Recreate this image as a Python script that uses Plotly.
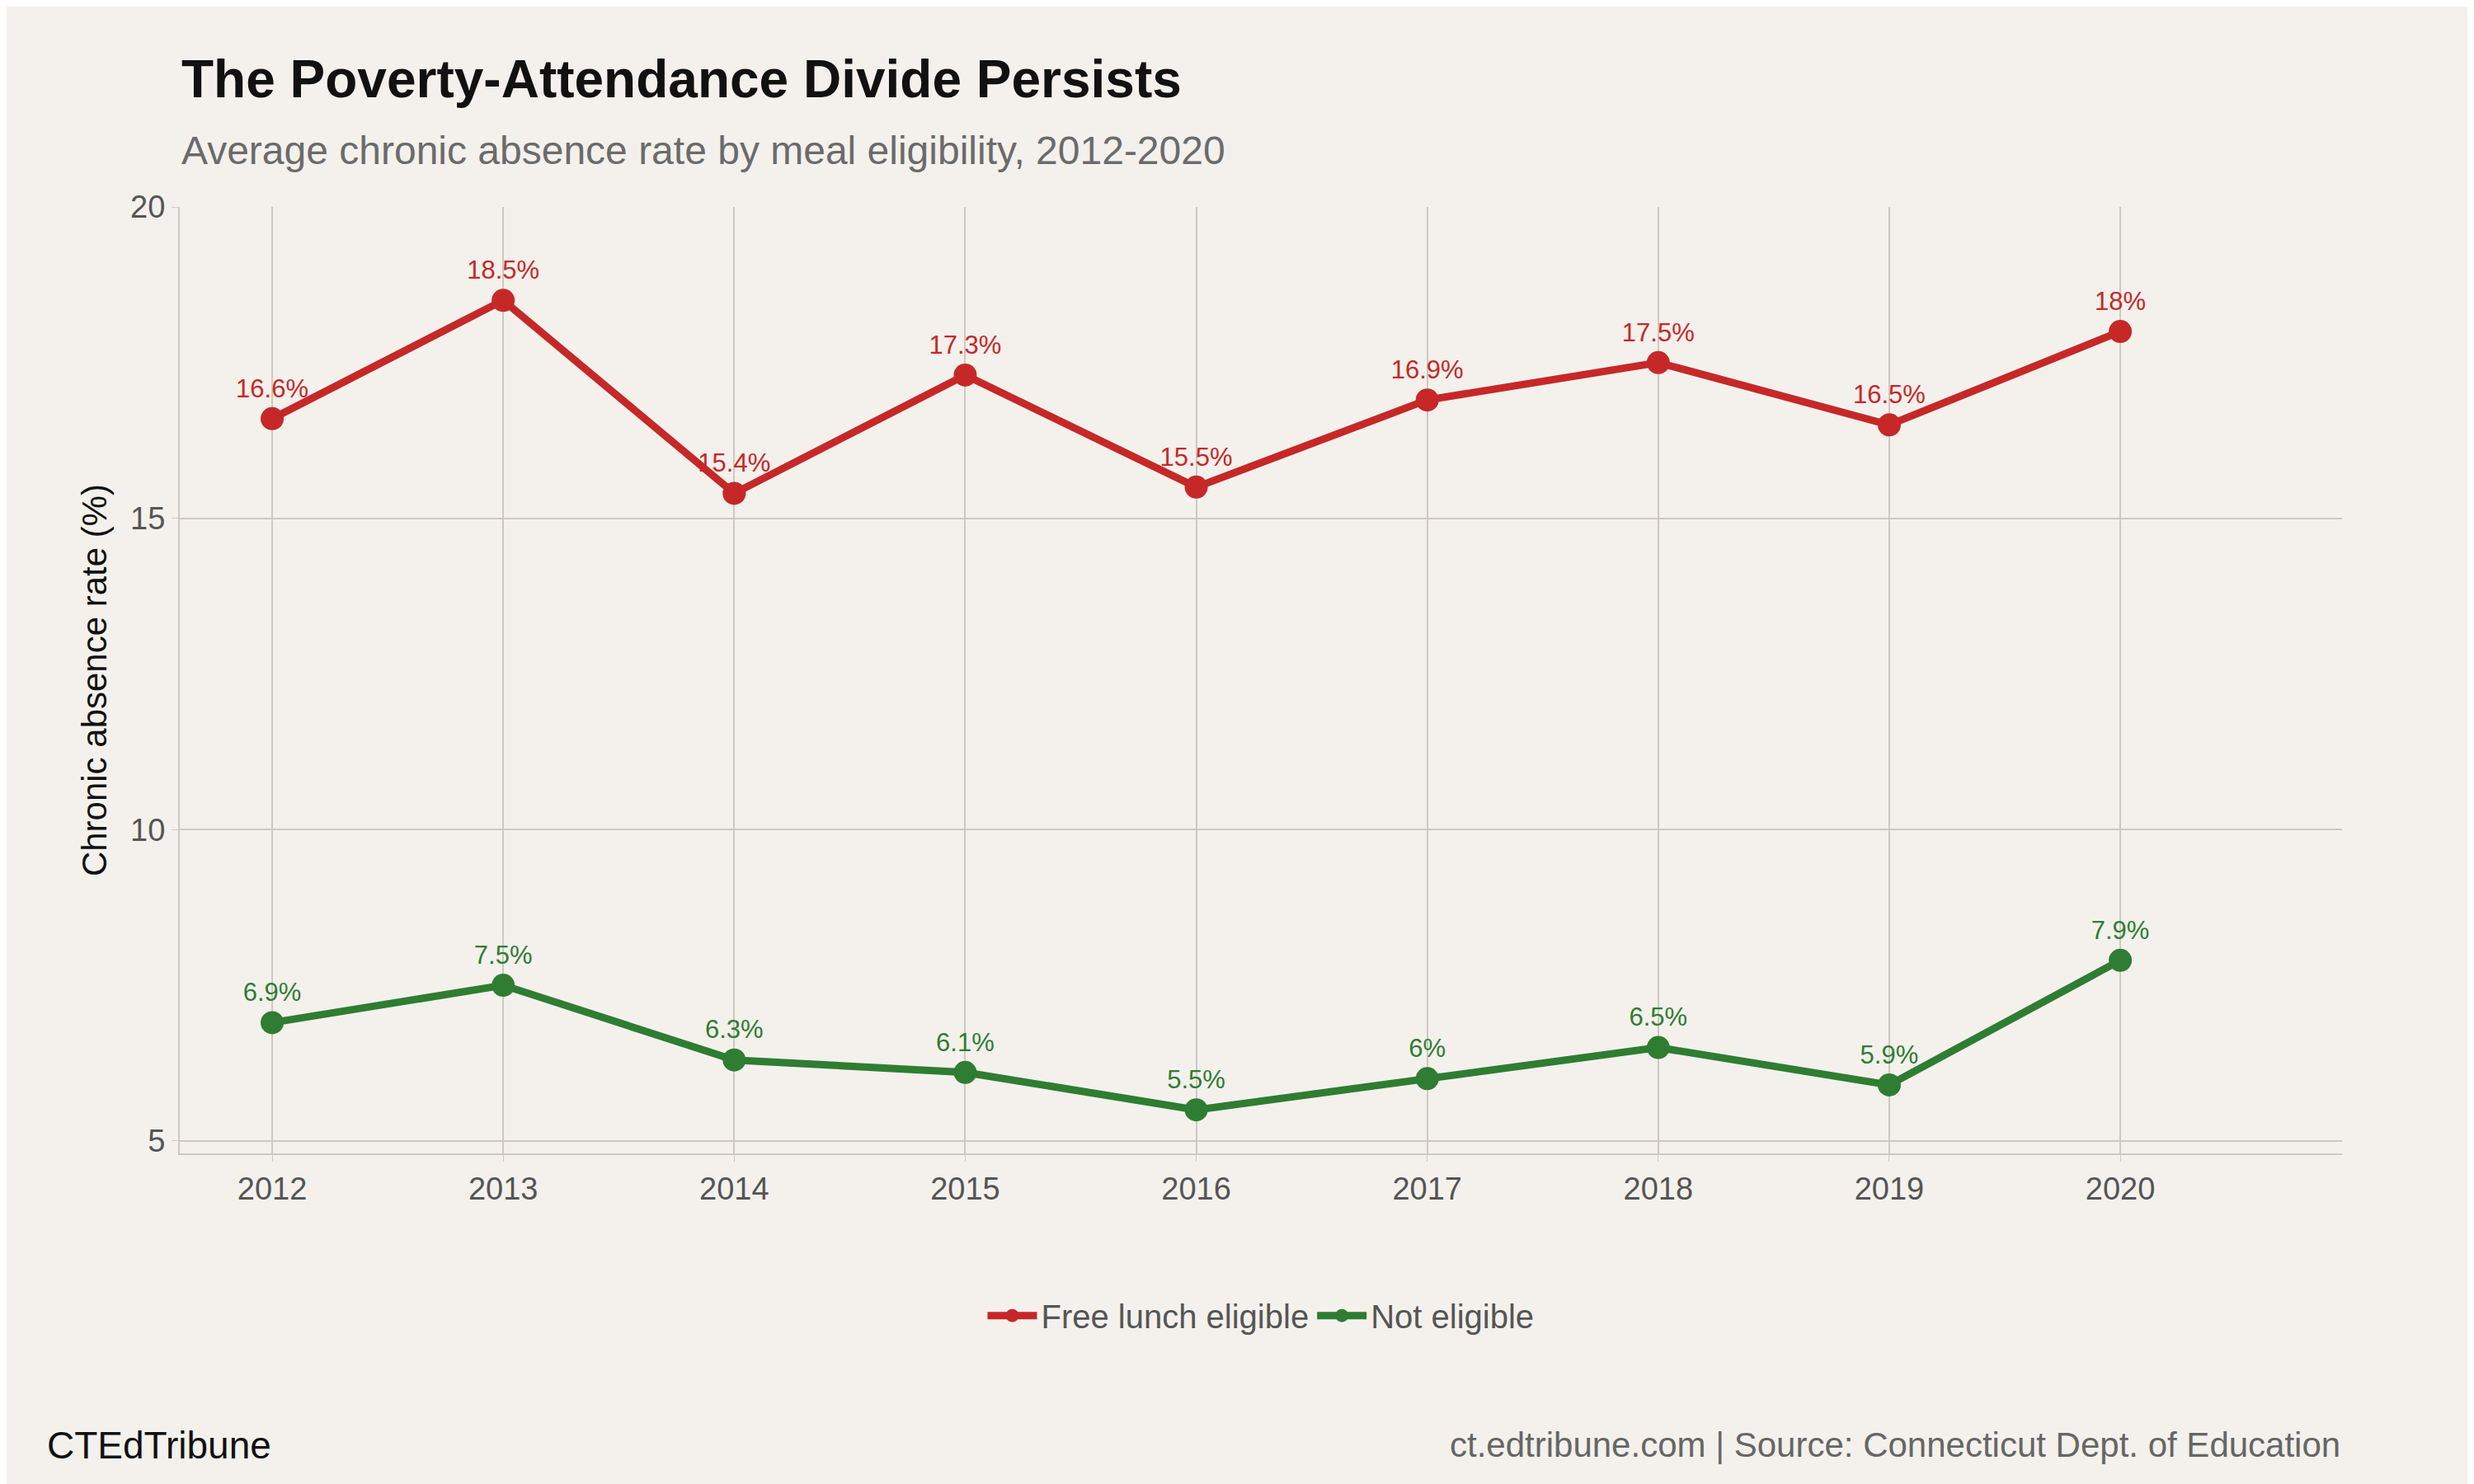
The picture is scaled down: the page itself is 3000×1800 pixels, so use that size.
import plotly.graph_objects as go

years = [2012, 2013, 2014, 2015, 2016, 2017, 2018, 2019, 2020]
free_lunch = [16.6, 18.5, 15.4, 17.3, 15.5, 16.9, 17.5, 16.5, 18.0]
not_eligible = [6.9, 7.5, 6.3, 6.1, 5.5, 6.0, 6.5, 5.9, 7.9]

RED = "#C62828"
GREEN = "#2E7D32"
BG = "#F4F1EC"
GRID = "#CDC9C2"
FONT = "Liberation Sans, Arial, sans-serif"


def label(v):
    return f"{v:g}%"


fig = go.Figure()
for name, vals, col in [("Free lunch eligible", free_lunch, RED),
                        ("Not eligible", not_eligible, GREEN)]:
    fig.add_trace(go.Scatter(
        x=years, y=vals, name=name, mode="lines+markers+text",
        line=dict(color=col, width=9),
        marker=dict(color=col, size=28),
        text=[label(v) for v in vals], textposition="top center",
        textfont=dict(color=col, size=31, family=FONT),
    ))

fig.update_layout(
    width=3000, height=1800,
    paper_bgcolor=BG, plot_bgcolor=BG,
    margin=dict(l=210, r=168, t=243, b=409),
    font=dict(family=FONT, color="#555555"),
    legend=dict(orientation="h", x=0.5, xanchor="center", y=-0.143, yanchor="top",
                font=dict(size=40, color="#555555"), itemwidth=60),
    showlegend=True,
)
fig.update_xaxes(range=[2011.6, 2020.96], tickvals=years, showgrid=True, gridcolor=GRID,
                 gridwidth=2, showline=True, linecolor=GRID, linewidth=2, ticks="outside",
                 tickcolor=GRID, ticklen=8, tickfont=dict(size=38, color="#555555"), zeroline=False)
fig.update_yaxes(range=[4.8, 20], tickvals=[5, 10, 15, 20], showgrid=True, gridcolor=GRID,
                 gridwidth=2, showline=True, linecolor=GRID, linewidth=2, ticks="outside",
                 tickcolor=GRID, ticklen=8, tickfont=dict(size=38, color="#555555"),
                 title=dict(text="Chronic absence rate (%)", font=dict(size=42, color="#111111")),
                 zeroline=False)

fig.add_annotation(text="<b>The Poverty-Attendance Divide Persists</b>", xref="paper", yref="paper",
                   x=0, y=1.135, xanchor="left", yanchor="middle", showarrow=False,
                   font=dict(size=64, color="#111111"))
fig.add_annotation(text="Average chronic absence rate by meal eligibility, 2012-2020",
                   xref="paper", yref="paper", x=0, y=1.06, xanchor="left", yanchor="middle",
                   showarrow=False, font=dict(size=48, color="#6b6b6b"))
fig.add_annotation(text="CTEdTribune", xref="paper", yref="paper", x=-0.062, y=-0.308,
                   xanchor="left", yanchor="middle", showarrow=False,
                   font=dict(size=46, color="#111111"))
fig.add_annotation(text="ct.edtribune.com | Source: Connecticut Dept. of Education",
                   xref="paper", yref="paper", x=1, y=-0.308, xanchor="right", yanchor="middle",
                   showarrow=False, font=dict(size=42, color="#666666"))

fig.write_html("out.html")
